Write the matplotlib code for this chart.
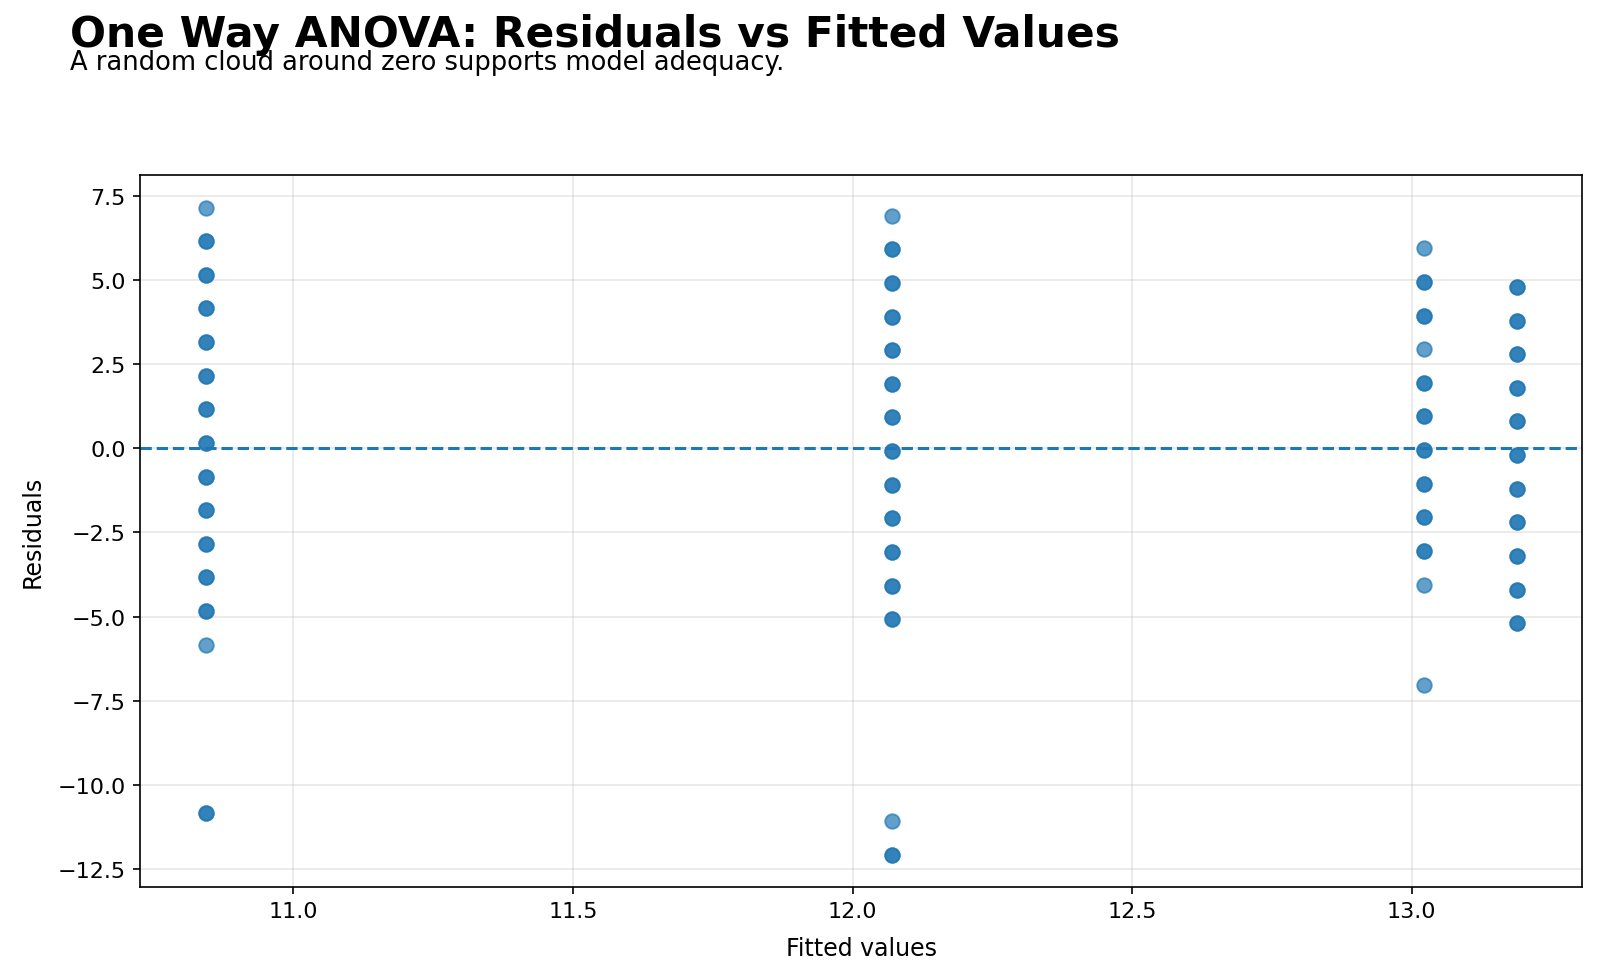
import matplotlib
matplotlib.use("Agg")
import matplotlib.pyplot as plt
import numpy as np

# fitted value (group mean) for each of the four groups
fitted_groups = [10.843, 12.07, 13.022, 13.188]

# residuals per group (repeated values = overlapping points)
resid_g1 = [7.16, 6.16, 6.16, 5.16, 5.16, 4.16, 4.16, 3.16, 3.16, 2.16, 2.16,
            1.16, 1.16, 0.16, 0.16, -0.84, -0.84, -1.84, -1.84, -2.84, -2.84,
            -3.84, -3.84, -4.84, -4.84, -5.84, -10.84, -10.84]
resid_g2 = [6.92, 5.92, 5.92, 4.92, 4.92, 3.92, 3.92, 2.92, 2.92, 1.92, 1.92,
            0.92, 0.92, -0.08, -0.08, -1.08, -1.08, -2.08, -2.08, -3.08, -3.08,
            -4.08, -4.08, -5.08, -5.08, -11.08, -12.08, -12.08]
resid_g3 = [5.95, 4.95, 4.95, 3.95, 3.95, 2.95, 1.95, 1.95, 0.95, 0.95,
            -0.05, -0.05, -1.05, -1.05, -2.05, -2.05, -3.05, -3.05, -4.05, -7.05]
resid_g4 = [4.80, 4.80, 3.80, 3.80, 2.80, 2.80, 1.80, 1.80, 0.80, 0.80,
            -0.20, -0.20, -1.20, -1.20, -2.20, -2.20, -3.20, -3.20, -4.20, -4.20,
            -5.20, -5.20]

residuals = [resid_g1, resid_g2, resid_g3, resid_g4]
fitted = np.concatenate([[f] * len(r) for f, r in zip(fitted_groups, residuals)])
resid = np.concatenate(residuals)

fig = plt.figure(figsize=(16, 9.79), dpi=100)
ax = fig.add_axes([0.0875, 0.093, 0.9015, 0.727])

ax.scatter(fitted, resid, s=110, color='#1f77b4', alpha=0.7, linewidths=1.3)
ax.axhline(0, color='#1f77b4', linestyle='--', linewidth=2.2)
ax.grid(True, color='#b0b0b0', linewidth=1.2, alpha=0.3)
ax.set_axisbelow(True)

for sp in ax.spines.values():
    sp.set_linewidth(1.2)

ax.set_xlabel('Fitted values', fontsize=17, labelpad=11)
ax.set_ylabel('Residuals', fontsize=17, labelpad=9)
ax.tick_params(labelsize=16, length=5.2, width=1.2, pad=5)

fig.text(0.044, 0.986, 'One Way ANOVA: Residuals vs Fitted Values',
         fontsize=30.5, fontweight='bold', va='top')
fig.text(0.044, 0.949, 'A random cloud around zero supports model adequacy.',
         fontsize=18.5, va='top')

fig.savefig('out.png', dpi=100)
